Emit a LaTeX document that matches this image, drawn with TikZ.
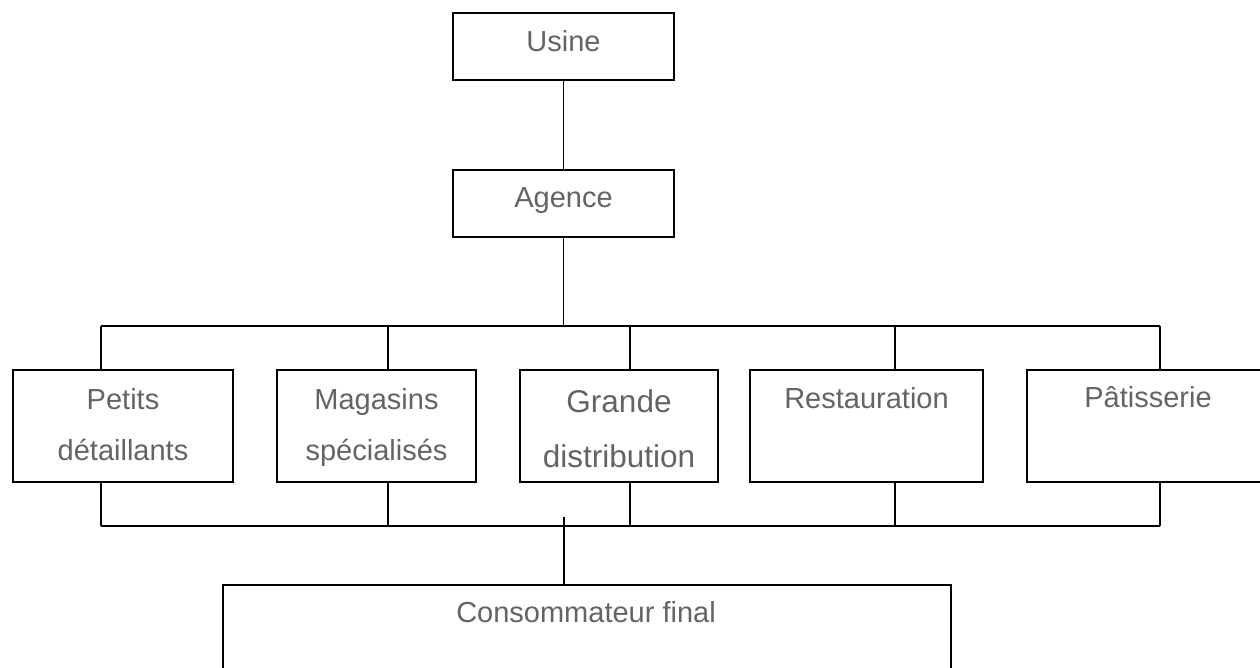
\documentclass[tikz,border=0pt]{standalone}
\usepackage{fontspec}
\setmainfont{Liberation Sans}
\definecolor{txtgray}{RGB}{100,100,100}
\tikzset{
  boxn/.style={draw=black, line width=1.8pt, fill=white, inner sep=0pt, minimum height=#1},
  boxn/.default=112pt,
  lbl/.style={anchor=base, inner sep=0pt, text=txtgray, font=\fontsize{29}{34}\selectfont},
  lblbig/.style={anchor=base, inner sep=0pt, text=txtgray, font=\fontsize{31.5}{36}\selectfont},
  conn/.style={draw=black, line width=1.8pt}
}
\begin{document}
\begin{tikzpicture}[x=1pt,y=-1pt]
\useasboundingbox (0,0) rectangle (1260,668);
% boxes
\node[boxn=67pt, minimum width=221pt] (usine) at (563.5,46.5) {};
\node[boxn=67pt, minimum width=221pt] (agence) at (563.5,203.5) {};
\node[boxn, minimum width=220pt] (petits) at (123,426) {};
\node[boxn, minimum width=199pt] (magasins) at (376.5,426) {};
\node[boxn, minimum width=198pt] (grande) at (619,426) {};
\node[boxn, minimum width=233pt] (resto) at (866.5,426) {};
\node[boxn, minimum width=242pt] (patis) at (1148,426) {};
\node[boxn=115pt, minimum width=728pt] (conso) at (587,642.5) {};
% labels
\node[lbl] (tusine) at (563.5,52) {Usine};
\node[lbl] (tagence) at (563.5,208) {Agence};
\node[lbl] (tpetits1) at (123,409) {Petits};
\node[lbl] (tpetits2) at (123,460) {détaillants};
\node[lbl] (tmag1) at (376.5,409) {Magasins};
\node[lbl] (tmag2) at (376.5,460) {spécialisés};
\node[lblbig] (tgr1) at (619,412) {Grande};
\node[lblbig] (tgr2) at (619,467) {distribution};
\node[lbl] (tresto) at (866.5,408) {Restauration};
\node[lbl] (tpatis) at (1148,407) {Pâtisserie};
\node[lbl] (tconso) at (586,622) {Consommateur final};
% connector coordinates
\coordinate (t1) at (101,326);
\coordinate (t2) at (388,326);
\coordinate (t3) at (630,326);
\coordinate (t4) at (895,326);
\coordinate (t5) at (1160,326);
\coordinate (b1) at (101,526);
\coordinate (b2) at (388,526);
\coordinate (b3) at (630,526);
\coordinate (b4) at (895,526);
\coordinate (b5) at (1160,526);
\coordinate (cs) at (564,517);
% connectors
\draw[conn] (usine.south) -- (agence.north);
\draw[conn] (agence.south) -- (agence.south |- t1);
\draw[conn] (t1) -- (t5);
\draw[conn] (t1) -- (t1 |- petits.north);
\draw[conn] (t2) -- (t2 |- magasins.north);
\draw[conn] (t3) -- (t3 |- grande.north);
\draw[conn] (t4) -- (t4 |- resto.north);
\draw[conn] (t5) -- (t5 |- patis.north);
\draw[conn] (b1) -- (b5);
\draw[conn] (b1) -- (b1 |- petits.south);
\draw[conn] (b2) -- (b2 |- magasins.south);
\draw[conn] (b3) -- (b3 |- grande.south);
\draw[conn] (b4) -- (b4 |- resto.south);
\draw[conn] (b5) -- (b5 |- patis.south);
\draw[conn] (cs) -- (cs |- conso.north);
\end{tikzpicture}
\end{document}
